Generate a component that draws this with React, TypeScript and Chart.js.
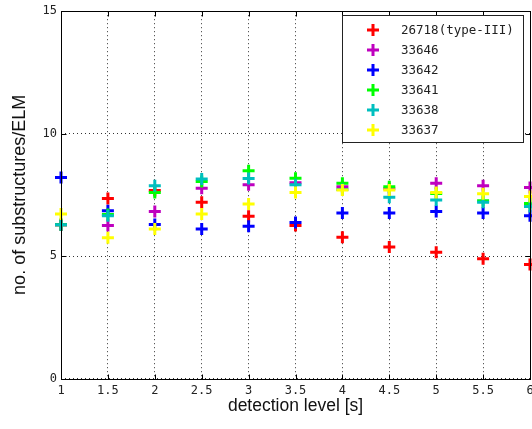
import React, { useEffect, useRef } from "react";
import { Chart, registerables } from "chart.js";

Chart.register(...registerables);

const detectionLevels = [1, 1.5, 2, 2.5, 3, 3.5, 4, 4.5, 5, 5.5, 6];
const yTickValues = [0, 5, 10, 15];

const seriesLabels = ["26718(type-III)", "33646", "33642", "33641", "33638", "33637"];
const seriesColors = ["#ff0000", "#bf00bf", "#0000ff", "#00ff00", "#00bfbf", "#ffff00"];

const s26718 = [6.28, 7.35, 7.68, 7.2, 6.63, 6.25, 5.77, 5.37, 5.16, 4.89, 4.66];
const s33646 = [6.28, 6.25, 6.82, 7.77, 7.91, 7.99, 7.83, 7.75, 7.97, 7.87, 7.8];
const s33642 = [8.21, 6.85, 6.29, 6.11, 6.22, 6.37, 6.76, 6.76, 6.82, 6.76, 6.65];
const s33641 = [6.28, 6.7, 7.6, 8.05, 8.48, 8.18, 7.97, 7.83, 7.56, 7.26, 7.15];
const s33638 = [6.28, 6.65, 7.87, 8.15, 8.17, 7.91, 7.72, 7.4, 7.29, 7.2, 7.02];
const s33637 = [6.72, 5.75, 6.11, 6.72, 7.13, 7.6, 7.7, 7.7, 7.6, 7.54, 7.43];

const seriesValues = [s26718, s33646, s33642, s33641, s33638, s33637];

const xTitle = "detection level [s]";
const yTitle = "no. of substructures/ELM";

const framePlugin = {
  id: "frame",
  afterDatasetsDraw(chart: any) {
    const { ctx, chartArea, scales } = chart;
    const L = Math.round(chartArea.left) + 0.5;
    const R = Math.round(chartArea.right) + 0.5;
    const T = Math.round(chartArea.top) + 0.5;
    const B = Math.round(chartArea.bottom) + 0.5;
    ctx.save();
    ctx.strokeStyle = "#000";
    ctx.lineWidth = 1;
    ctx.setLineDash([]);
    ctx.strokeRect(L, T, R - L, B - T);
    ctx.beginPath();
    for (const v of detectionLevels) {
      const px = Math.round(scales.x.getPixelForValue(v)) + 0.5;
      ctx.moveTo(px, B);
      ctx.lineTo(px, B - 5);
      ctx.moveTo(px, T);
      ctx.lineTo(px, T + 5);
    }
    for (const v of yTickValues) {
      const py = Math.round(scales.y.getPixelForValue(v)) + 0.5;
      ctx.moveTo(L, py);
      ctx.lineTo(L + 5, py);
      ctx.moveTo(R, py);
      ctx.lineTo(R - 5, py);
    }
    ctx.stroke();
    ctx.restore();
  },
};

const legendPlugin = {
  id: "customLegend",
  afterDraw(chart: any) {
    const { ctx } = chart;
    const bx = 342.5, by = 15.5, bw = 181, bh = 127;
    ctx.save();
    ctx.fillStyle = "#fff";
    ctx.fillRect(bx, by, bw, bh);
    ctx.strokeStyle = "#222";
    ctx.lineWidth = 1;
    ctx.setLineDash([]);
    ctx.strokeRect(bx, by, bw, bh);
    chart.data.datasets.forEach((ds: any, i: number) => {
      const cy = 30 + i * 20;
      const cx = 373;
      ctx.strokeStyle = ds.borderColor;
      ctx.lineWidth = 3;
      ctx.beginPath();
      ctx.moveTo(cx - 6, cy);
      ctx.lineTo(cx + 6, cy);
      ctx.moveTo(cx, cy - 6);
      ctx.lineTo(cx, cy + 6);
      ctx.stroke();
      ctx.fillStyle = "#222";
      ctx.font = "12.5px 'DejaVu Sans Mono'";
      ctx.textBaseline = "middle";
      ctx.textAlign = "left";
      ctx.fillText(ds.label, 401, cy + 0.5);
    });
    ctx.restore();
  },
};

export default function App() {
  const canvasRef = useRef<HTMLCanvasElement | null>(null);

  useEffect(() => {
    if (!canvasRef.current) return;
    const n = seriesLabels.length;
    const chart = new Chart(canvasRef.current, {
      type: "scatter",
      data: {
        datasets: seriesLabels.map((label, i) => ({
          label,
          data: detectionLevels.map((x, j) => ({ x, y: seriesValues[i][j] })),
          borderColor: seriesColors[i],
          backgroundColor: seriesColors[i],
          pointStyle: "cross",
          pointRadius: 6,
          pointBorderWidth: 3,
          pointHoverRadius: 6,
          order: n - 1 - i,
          clip: false as any,
        })),
      },
      options: {
        animation: false,
        responsive: false,
        maintainAspectRatio: false,
        layout: { autoPadding: false, padding: { top: 9, right: 2, left: 0, bottom: 0 } },
        plugins: {
          legend: { display: false },
          tooltip: { enabled: false },
        },
        scales: {
          x: {
            type: "linear",
            min: 1,
            max: 6,
            ticks: {
              stepSize: 0.5,
              padding: 5,
              color: "#222",
              font: { family: "'DejaVu Sans Mono'", size: 12 },
              maxRotation: 0,
              autoSkip: false,
              callback: (v: any) => String(Math.round(Number(v) * 10) / 10),
            },
            grid: {
              color: "#333",
              lineWidth: 1,
              drawTicks: false,
            },
            border: { display: false, dash: [1, 3] },
            title: {
              display: true,
              text: xTitle,
              color: "#111",
              font: { family: "'Liberation Sans', Arial, sans-serif", size: 17.5 },
              padding: { top: 0, bottom: 12 },
            },
            afterFit(scale: any) {
              scale.height = 50.5;
              scale.paddingRight = 0;
              scale.paddingLeft = 0;
            },
          },
          y: {
            type: "linear",
            min: 0,
            max: 15,
            ticks: {
              stepSize: 5,
              padding: 4,
              color: "#222",
              font: { family: "'DejaVu Sans Mono'", size: 12 },
              callback: (v: any) => String(v),
            },
            grid: {
              color: "#333",
              lineWidth: 1,
              drawTicks: false,
            },
            border: { display: false, dash: [1, 3] },
            title: {
              display: true,
              text: yTitle,
              color: "#111",
              font: { family: "'Liberation Sans', Arial, sans-serif", size: 18 },
              padding: { top: 9, bottom: 0 },
            },
            afterFit(scale: any) {
              scale.width = 61;
            },
          },
        },
      },
      plugins: [framePlugin, legendPlugin],
    });
    return () => chart.destroy();
  }, []);

  return (
    <div style={{ position: "absolute", left: 0, top: 0, width: 532, height: 429, background: "#fff" }}>
      <canvas ref={canvasRef} width={532} height={429} style={{ width: 532, height: 429, display: "block" }} />
    </div>
  );
}
